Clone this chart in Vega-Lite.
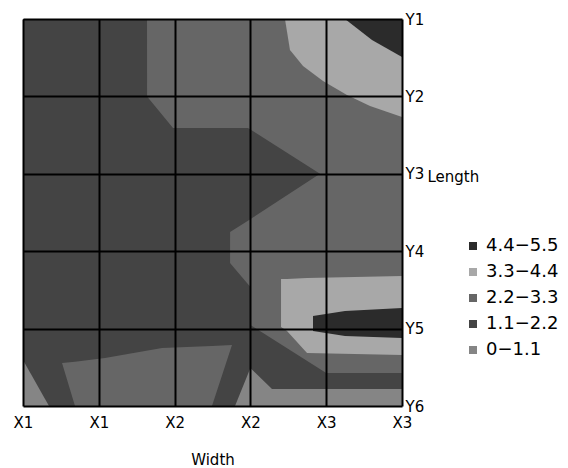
{
  "$schema": "https://vega.github.io/schema/vega-lite/v6.json",
  "width": 379,
  "height": 387,
  "autosize": {"type": "none"},
  "padding": {"left": 23, "top": 19, "right": 166, "bottom": 62},
  "background": "white",
  "config": {
    "view": {"stroke": null},
    "font": "DejaVu Sans",
    "axis": {"labelFont": "DejaVu Sans", "titleFont": "DejaVu Sans", "labelColor": "black", "titleColor": "black", "titleFontWeight": "normal"}
  },
  "data": {
    "values": [
      {"s": "B", "level": "2.2−3.3", "x": 0, "y": 0, "y2": 5},
      {"s": "B", "level": "2.2−3.3", "x": 5, "y": 0, "y2": 5},
      {"s": "A1", "level": "1.1−2.2", "x": 0, "y": 0, "y2": 5},
      {"s": "A1", "level": "1.1−2.2", "x": 1.636, "y": 0, "y2": 5},
      {"s": "A1", "level": "1.1−2.2", "x": 1.637, "y": 1.0, "y2": 5},
      {"s": "A1", "level": "1.1−2.2", "x": 1.979, "y": 1.408, "y2": 5},
      {"s": "A1", "level": "1.1−2.2", "x": 2.731, "y": 1.408, "y2": 5},
      {"s": "A1", "level": "1.1−2.2", "x": 2.732, "y": 1.408, "y2": 2.752},
      {"s": "A1", "level": "1.1−2.2", "x": 2.968, "y": 1.408, "y2": 2.605},
      {"s": "A1", "level": "1.1−2.2", "x": 3.918, "y": 2.0, "y2": 2.0},
      {"s": "A2", "level": "1.1−2.2", "x": 2.731, "y": 3.152, "y2": 5},
      {"s": "A2", "level": "1.1−2.2", "x": 3.0, "y": 3.463, "y2": 5},
      {"s": "A3", "level": "1.1−2.2", "x": 3.0, "y": 3.953, "y2": 5},
      {"s": "A3", "level": "1.1−2.2", "x": 4.0, "y": 4.574, "y2": 5},
      {"s": "A3", "level": "1.1−2.2", "x": 5, "y": 4.574, "y2": 5},
      {"s": "W", "level": "2.2−3.3", "x": 0.515, "y": 4.444, "y2": 4.444},
      {"s": "W", "level": "2.2−3.3", "x": 0.686, "y": 4.429, "y2": 5},
      {"s": "W", "level": "2.2−3.3", "x": 1.082, "y": 4.38, "y2": 5},
      {"s": "W", "level": "2.2−3.3", "x": 1.834, "y": 4.251, "y2": 5},
      {"s": "W", "level": "2.2−3.3", "x": 2.493, "y": 4.224, "y2": 5},
      {"s": "W", "level": "2.2−3.3", "x": 2.757, "y": 4.212, "y2": 4.212},
      {"s": "S1", "level": "0−1.1", "x": 0, "y": 4.406, "y2": 5},
      {"s": "S1", "level": "0−1.1", "x": 0.343, "y": 5, "y2": 5},
      {"s": "S2", "level": "0−1.1", "x": 2.797, "y": 5, "y2": 5},
      {"s": "S2", "level": "0−1.1", "x": 3.0, "y": 4.509, "y2": 5},
      {"s": "S2", "level": "0−1.1", "x": 3.285, "y": 4.78, "y2": 5},
      {"s": "S2", "level": "0−1.1", "x": 5, "y": 4.78, "y2": 5},
      {"s": "C1", "level": "3.3−4.4", "x": 3.456, "y": 0, "y2": 0},
      {"s": "C1", "level": "3.3−4.4", "x": 3.522, "y": 0, "y2": 0.401},
      {"s": "C1", "level": "3.3−4.4", "x": 3.694, "y": 0, "y2": 0.607},
      {"s": "C1", "level": "3.3−4.4", "x": 3.958, "y": 0, "y2": 0.801},
      {"s": "C1", "level": "3.3−4.4", "x": 4.274, "y": 0, "y2": 0.982},
      {"s": "C1", "level": "3.3−4.4", "x": 4.578, "y": 0, "y2": 1.124},
      {"s": "C1", "level": "3.3−4.4", "x": 5, "y": 0, "y2": 1.266},
      {"s": "H1", "level": "4.4−5.5", "x": 4.248, "y": 0, "y2": 0},
      {"s": "H1", "level": "4.4−5.5", "x": 4.604, "y": 0, "y2": 0.271},
      {"s": "H1", "level": "4.4−5.5", "x": 5, "y": 0, "y2": 0.491},
      {"s": "C2", "level": "3.3−4.4", "x": 3.404, "y": 3.359, "y2": 3.979},
      {"s": "C2", "level": "3.3−4.4", "x": 3.483, "y": 3.359, "y2": 4.031},
      {"s": "C2", "level": "3.3−4.4", "x": 3.747, "y": 3.346, "y2": 4.315},
      {"s": "C2", "level": "3.3−4.4", "x": 5, "y": 3.32, "y2": 4.341},
      {"s": "H2", "level": "4.4−5.5", "x": 3.826, "y": 3.837, "y2": 4.031},
      {"s": "H2", "level": "4.4−5.5", "x": 4.248, "y": 3.773, "y2": 4.096},
      {"s": "H2", "level": "4.4−5.5", "x": 5, "y": 3.734, "y2": 4.121}
    ]
  },
  "encoding": {
    "x": {
      "field": "x", "type": "quantitative",
      "scale": {"domain": [0, 5], "nice": false, "zero": false},
      "axis": {
        "orient": "bottom", "values": [0, 1, 2, 3, 4, 5],
        "labelExpr": "['X1','X1','X2','X2','X3','X3'][datum.value]",
        "labelFontSize": 15, "labelPadding": 9, "labelFlush": false,
        "ticks": false, "tickSize": 0, "domain": false,
        "grid": true, "gridColor": "black", "gridWidth": 2, "gridOpacity": 1,
        "zindex": 1,
        "title": "Width", "titleFontSize": 15, "titleBaseline": "middle", "titleY": 53
      }
    },
    "y": {
      "field": "y", "type": "quantitative", "stack": null,
      "scale": {"domain": [0, 5], "nice": false, "zero": false, "reverse": true},
      "axis": {
        "orient": "right", "values": [0, 1, 2, 3, 4, 5],
        "labelExpr": "'Y' + (datum.value + 1)",
        "labelFontSize": 15, "labelPadding": 3, "labelAlign": "left", "labelBaseline": "middle",
        "ticks": false, "tickSize": 0, "domain": false,
        "grid": true, "gridColor": "black", "gridWidth": 2, "gridOpacity": 1,
        "zindex": 1,
        "title": "Length", "titleFontSize": 15, "titleAngle": 0, "titleAlign": "left",
        "titleBaseline": "middle", "titleX": 25, "titleY": 157
      }
    },
    "y2": {"field": "y2"},
    "color": {
      "field": "level", "type": "nominal",
      "scale": {
        "domain": ["4.4−5.5", "3.3−4.4", "2.2−3.3", "1.1−2.2", "0−1.1"],
        "range": ["#2b2b2b", "#a8a8a8", "#666666", "#444444", "#858585"]
      },
      "legend": {
        "orient": "none", "legendX": 441, "legendY": 218, "title": null,
        "symbolType": "square", "symbolSize": 64, "symbolStrokeWidth": 0,
        "labelFont": "DejaVu Sans", "labelFontSize": 18, "labelColor": "black",
        "labelOffset": 4, "rowPadding": 8, "padding": 0
      }
    }
  },
  "layer": [
    {"transform": [{"filter": "datum.s == 'B'"}], "mark": {"type": "area", "interpolate": "linear"}},
    {"transform": [{"filter": "datum.s == 'A1'"}], "mark": {"type": "area", "interpolate": "linear"}},
    {"transform": [{"filter": "datum.s == 'A2'"}], "mark": {"type": "area", "interpolate": "linear"}},
    {"transform": [{"filter": "datum.s == 'A3'"}], "mark": {"type": "area", "interpolate": "linear"}},
    {"transform": [{"filter": "datum.s == 'W'"}], "mark": {"type": "area", "interpolate": "linear"}},
    {"transform": [{"filter": "datum.s == 'S1'"}], "mark": {"type": "area", "interpolate": "linear"}},
    {"transform": [{"filter": "datum.s == 'S2'"}], "mark": {"type": "area", "interpolate": "linear"}},
    {"transform": [{"filter": "datum.s == 'C1'"}], "mark": {"type": "area", "interpolate": "linear"}},
    {"transform": [{"filter": "datum.s == 'H1'"}], "mark": {"type": "area", "interpolate": "linear"}},
    {"transform": [{"filter": "datum.s == 'C2'"}], "mark": {"type": "area", "interpolate": "linear"}},
    {"transform": [{"filter": "datum.s == 'H2'"}], "mark": {"type": "area", "interpolate": "linear"}}
  ]
}
